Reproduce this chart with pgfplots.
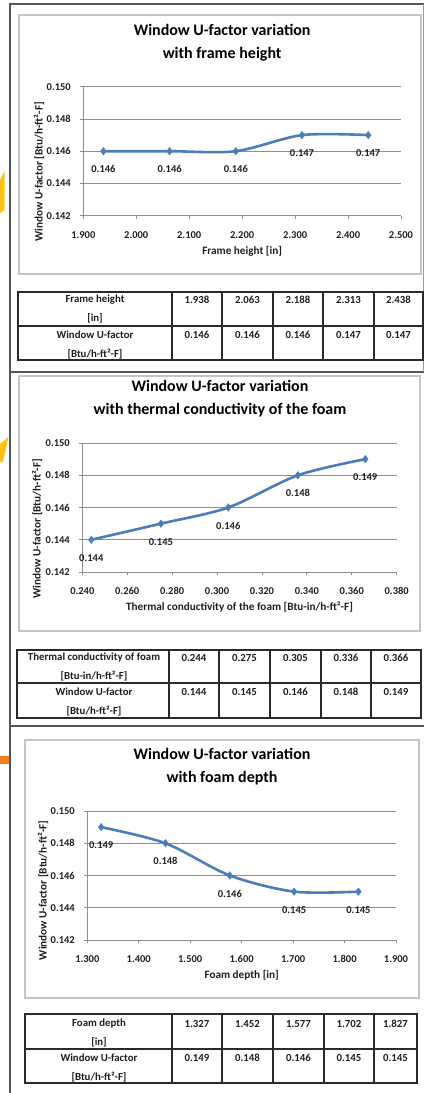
\documentclass[border=0pt]{standalone}
\usepackage{fontspec}
\setmainfont{Carlito}
\usepackage{pgfplots}
\pgfplotsset{compat=1.18}
\definecolor{ser}{HTML}{4A7EBB}
\definecolor{gridc}{HTML}{8E8E8E}
\definecolor{panelc}{HTML}{50565F}
\definecolor{cbox}{HTML}{C4C4C4}
\definecolor{yel}{HTML}{FFC20E}
\definecolor{org}{HTML}{F2801F}
\definecolor{txt}{HTML}{1E1E1E}
\definecolor{tabc}{HTML}{2A2A2A}
\newcommand\fs{\bfseries\fontsize{10.5}{12}\selectfont}
\newcommand\fl{\bfseries\fontsize{11.2}{13}\selectfont}
\newcommand\ft{\bfseries\fontsize{10.8}{12}\selectfont}
\pgfplotsset{
  ufac/.style={
    scale only axis, clip=false,
    axis x line*=bottom, axis y line*=left,
    axis line style={gridc, line width=0.9pt, -},
    ymin=0.142, ymax=0.150, ytick={0.142,0.144,0.146,0.148,0.150},
    scaled x ticks=false, scaled y ticks=false,
    ymajorgrids, major grid style={gridc, line width=0.9pt},
    tick align=outside, major tick length=3pt,
    major tick style={gridc, line width=0.9pt},
    xtick pos=bottom, ytick pos=left,
    /pgf/number format/fixed, /pgf/number format/fixed zerofill,
    /pgf/number format/precision=3,
    /pgf/number format/assume math mode=true,
    xticklabel style={font=\fs, text=txt, anchor=center, yshift=-16.3pt},
    yticklabel style={font=\fs, text=txt, anchor=east, inner sep=0pt, xshift=-9.3pt},
    title style={at={(axis description cs:0.5,1)}, anchor=center, yshift=38pt,
      font=\bfseries\fontsize{16}{23}\selectfont, align=center, text=black},
    xlabel style={at={(axis description cs:0.5,0)}, anchor=center, yshift=-35.5pt,
      font=\fl, text=txt},
    every axis y label/.style={rotate=90, anchor=center, font=\fl, text=txt},
    ylabel={Window U-factor [Btu/h-ft²-F]},
    nodes near coords={\pgfmathprintnumber[fixed,fixed zerofill,precision=3]{\pgfplotspointmeta}},
    every node near coord/.append style={font=\fs, text=txt, anchor=center, yshift=-18pt},
  },
  ser/.style={color=ser, line width=2.6pt, smooth, mark=diamond*, mark size=3.8pt,
    mark options={fill=ser, draw=ser, line width=0.4pt}},
}
\begin{document}
\begin{tikzpicture}
\path[use as bounding box] (0,0) rectangle (424pt,-1093pt);
% decorations and frames
\begin{scope}[x=1pt,y=-1pt]
\fill[yel] (0,180) -- (4.5,171) -- (4.5,210) -- (0,213) -- cycle;
\fill[yel] (0,444) -- (8.5,437) -- (3,462) -- (0,462) -- cycle;
\fill[org] (0,756) rectangle (9.5,763.5);
\draw[panelc, line width=2pt] (10,4) -- (424,4);
\draw[panelc, line width=2pt] (10,372) -- (424,372);
\draw[panelc, line width=2pt] (10,726) -- (424,726);
\draw[panelc, line width=2.6pt] (10,3) -- (10,1093);
\draw[panelc!60, line width=1pt] (423,4) -- (423,372);
\draw[cbox, line width=1.5pt] (19,15) rectangle (421,274);
\draw[cbox, line width=1.5pt] (19,376) rectangle (420,631);
\draw[cbox, line width=1.5pt] (25,740) rectangle (419,998);
\end{scope}

\begin{axis}[ufac, at={(83.3pt,-215.7pt)}, anchor=south west, width=317.7pt, height=129pt,
  xmin=1.9, xmax=2.5, xtick={1.9,2.0,2.1,2.2,2.3,2.4,2.5},
  title={Window U-factor variation\\with frame height}, title style={xshift=-20pt, yshift=0.2pt},
  xlabel={Frame height [in]},
  ylabel style={at={(axis description cs:-0.139,0.341)}}]
\addplot[ser] coordinates {(1.938,0.146) (2.063,0.146) (2.188,0.146) (2.313,0.147) (2.438,0.147)};
\end{axis}

\begin{axis}[ufac, at={(82.3pt,-572pt)}, anchor=south west, width=314.4pt, height=129pt,
  xmin=0.24, xmax=0.38, xtick={0.24,0.26,0.28,0.30,0.32,0.34,0.36,0.38},
  title={Window U-factor variation\\with thermal conductivity of the foam}, title style={xshift=-19.5pt},
  xlabel={Thermal conductivity of the foam [Btu-in/h-ft²-F]},
  ylabel style={at={(axis description cs:-0.144,0.337)}}]
\addplot[ser] coordinates {(0.244,0.144) (0.275,0.145) (0.305,0.146) (0.336,0.148) (0.366,0.149)};
\end{axis}

\begin{axis}[ufac, at={(87.3pt,-940pt)}, anchor=south west, width=308.7pt, height=129pt,
  xmin=1.3, xmax=1.9, xtick={1.3,1.4,1.5,1.6,1.7,1.8,1.9},
  title={Window U-factor variation\\with foam depth}, title style={xshift=-19.6pt, yshift=0.5pt},
  xlabel={Foam depth [in]},
  ylabel style={at={(axis description cs:-0.1435,0.384)}}]
\addplot[ser] coordinates {(1.327,0.149) (1.452,0.148) (1.577,0.146) (1.702,0.145) (1.827,0.145)};
\end{axis}

% tables
\begin{scope}[x=1pt,y=-1pt, every node/.style={font=\ft, text=txt, inner sep=0pt}]
% table 1
\draw[tabc, line width=1.2pt] (18,292) rectangle (423,360);
\draw[tabc, line width=1.2pt] (18,326) -- (423,326);
\foreach \c in {172,222,273,323,374} \draw[tabc, line width=1.2pt] (\c,292) -- (\c,360);
\node at (95,300) {Frame height};
\node at (95,318) {[in]};
\node at (95,335) {Window U-factor};
\node at (95,354) {[Btu/h-ft²-F]};
\foreach \x/\a/\b in {197/1.938/0.146, 247.5/2.063/0.146, 298/2.188/0.146, 348.5/2.313/0.147, 398.5/2.438/0.147}{
  \node at (\x,300) {\a}; \node at (\x,335) {\b};}
% table 2
\draw[tabc, line width=1.2pt] (17,650) rectangle (421,718);
\draw[tabc, line width=1.2pt] (17,683) -- (421,683);
\foreach \c in {169,219,270,321,371} \draw[tabc, line width=1.2pt] (\c,650) -- (\c,718);
\node at (94,657.5) {Thermal conductivity of foam};
\node at (94,676) {[Btu-in/h-ft²-F]};
\node at (94,692) {Window U-factor};
\node at (94,711) {[Btu/h-ft²-F]};
\foreach \x/\a/\b in {194/0.244/0.144, 244.5/0.275/0.145, 295.5/0.305/0.146, 346/0.336/0.148, 396/0.366/0.149}{
  \node at (\x,657.5) {\a}; \node at (\x,692) {\b};}
% table 3
\draw[tabc, line width=1.2pt] (25,1014) rectangle (417,1083);
\draw[tabc, line width=1.2pt] (25,1049) -- (417,1049);
\foreach \c in {172,222,273,324,374} \draw[tabc, line width=1.2pt] (\c,1014) -- (\c,1083);
\node at (99,1024) {Foam depth};
\node at (99,1042) {[in]};
\node at (99,1058) {Window U-factor};
\node at (99,1077) {[Btu/h-ft²-F]};
\foreach \x/\a/\b in {197/1.327/0.149, 247.5/1.452/0.148, 298.5/1.577/0.146, 349/1.702/0.145, 395.5/1.827/0.145}{
  \node at (\x,1024) {\a}; \node at (\x,1058) {\b};}
\end{scope}
\end{tikzpicture}
\end{document}
